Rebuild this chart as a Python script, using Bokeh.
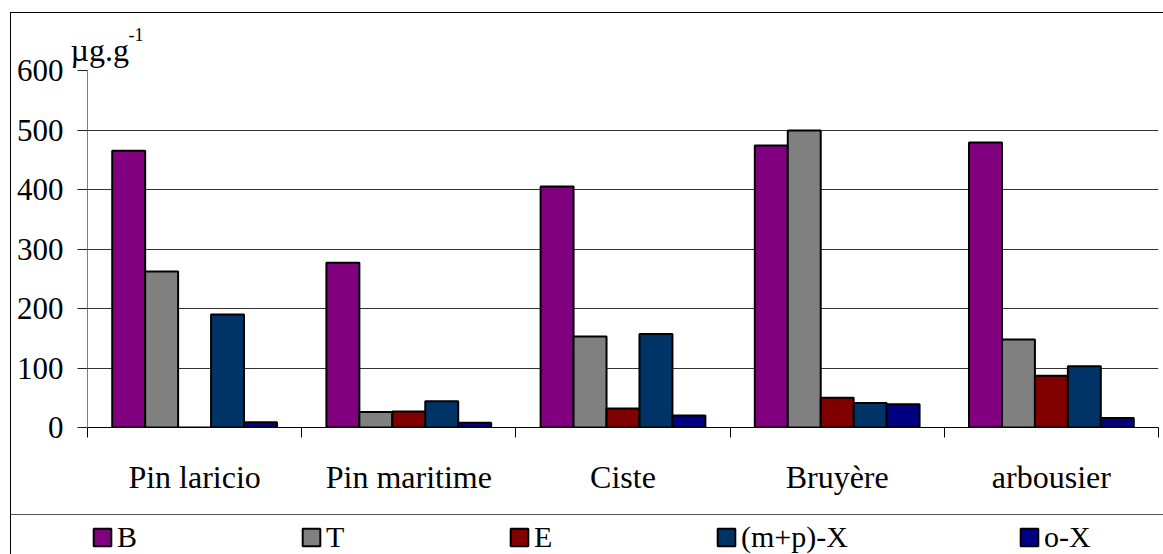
from bokeh.plotting import figure
from bokeh.layouts import column
from bokeh.models import (Range1d, FixedTicker, Legend, LegendItem, Title,
                          ColumnDataSource, InlineStyleSheet)
from bokeh.embed import file_html
from bokeh.resources import INLINE

categories = ["Pin laricio", "Pin maritime", "Ciste", "Bruyère", "arbousier"]
series_names = ["B", "T", "E", "(m+p)-X", "o-X"]
B = [465, 277, 405, 474, 479]
T = [262, 26, 153, 499, 148]
E = [0, 27, 32, 50, 87]
MPX = [190, 44, 157, 41, 103]
OX = [9, 8, 20, 39, 16]
y_ticks = [0, 100, 200, 300, 400, 500, 600]
colors = ["#800080", "#808080", "#800000", "#003366", "#000080"]

series_values = [B, T, E, MPX, OX]
n_cat = len(categories)
n_ser = len(series_names)
bar_w = 1.0 / (n_ser + 1.5)

FONT = "Liberation Serif"

p = figure(width=1163, height=514, output_backend="svg", toolbar_location=None,
           x_range=Range1d(0, n_cat), y_range=Range1d(0, 600),
           min_border_left=87, min_border_right=5, min_border_top=70,
           min_border_bottom=87)
p.outline_line_color = None
p.background_fill_color = "white"
p.border_fill_color = "white"

# legend strip (separate small figure whose frame holds the legend);
# hidden renderers on the same data supply the legend swatches
lf = figure(width=1163, height=40, output_backend="svg", toolbar_location=None,
            x_range=p.x_range, y_range=Range1d(1000, 1001),
            x_axis_type=None, y_axis_type=None, min_border=0)
lf.outline_line_color = None
lf.grid.grid_line_color = None
lf.border_fill_color = "white"
lf.background_fill_color = "white"
lf.title.visible = False

leg_x = [4, 213, 421, 628, 931]
for j, (name, vals) in enumerate(zip(series_names, series_values)):
    xs = [i + 0.5 + (j - (n_ser - 1) / 2) * bar_w for i in range(n_cat)]
    src = ColumnDataSource(dict(x=xs, top=vals))
    p.vbar(x="x", top="top", bottom=0, width=bar_w, source=src,
           fill_color=colors[j], line_color="black", line_width=2)
    r = lf.vbar(x="x", top="top", bottom=0, width=bar_w, source=src,
                fill_color=colors[j], line_color="black", line_width=2)
    r.visible = False
    leg = Legend(items=[LegendItem(label=name, renderers=[r])],
                 location=(leg_x[j], 0), padding=0, margin=0,
                 click_policy="none",
                 border_line_color=None, background_fill_alpha=0,
                 glyph_width=22, glyph_height=22, label_standoff=4,
                 label_text_font=FONT, label_text_font_size="30px",
                 label_text_color="black")
    lf.add_layout(leg)

# y axis
yax = p.yaxis[0]
yax.ticker = FixedTicker(ticks=y_ticks, minor_ticks=[])
yax.axis_line_color = "#808080"
yax.major_tick_out = 10
yax.major_tick_in = 0
yax.major_tick_line_color = "#222222"
yax.major_label_standoff = 14
yax.major_label_text_font = FONT
yax.major_label_text_font_size = "31px"
yax.major_label_text_color = "black"

# x axis
xax = p.xaxis[0]
xax.ticker = FixedTicker(ticks=[i + 0.5 for i in range(n_cat)],
                         minor_ticks=list(range(n_cat + 1)))
xax.major_label_overrides = {i + 0.5: c for i, c in enumerate(categories)}
xax.major_tick_line_color = None
xax.major_tick_out = 0
xax.major_tick_in = 0
xax.minor_tick_out = 10
xax.minor_tick_in = 0
xax.minor_tick_line_color = "black"
xax.axis_line_color = "black"
xax.major_label_standoff = 21
xax.major_label_text_font = FONT
xax.major_label_text_font_size = "32px"
xax.major_label_text_color = "black"

p.xgrid.grid_line_color = None
p.ygrid.grid_line_color = "#333333"
p.ygrid.grid_line_width = 1

# unit label as titles: superscript (outer) and main text (inner)
p.title.text = "-1"
p.title.align = "left"
p.title.offset = 41
p.title.standoff = -28
p.title.text_font = FONT
p.title.text_font_size = "18px"
p.title.text_font_style = "normal"
p.title.text_color = "black"
p.add_layout(Title(text="µg.g", align="left", offset=-17, standoff=6,
                   text_font=FONT, text_font_size="32px", text_color="black",
                   text_font_style="normal"), "above")

layout = column(p, lf, spacing=0)
layout.stylesheets = [InlineStyleSheet(css="""
:host::after { content: ""; position: absolute; left: 10px; top: 12px;
  right: 0px; bottom: 0px; border-left: 1.5px solid #000; border-top: 1.5px solid #000;
  pointer-events: none; z-index: 10; }
:host::before { content: ""; position: absolute; left: 10px; top: 514px;
  right: 0px; height: 0px; border-top: 1.5px solid #555; pointer-events: none; z-index: 10; }
""")]

open("out.html", "w").write(file_html(layout, INLINE))
